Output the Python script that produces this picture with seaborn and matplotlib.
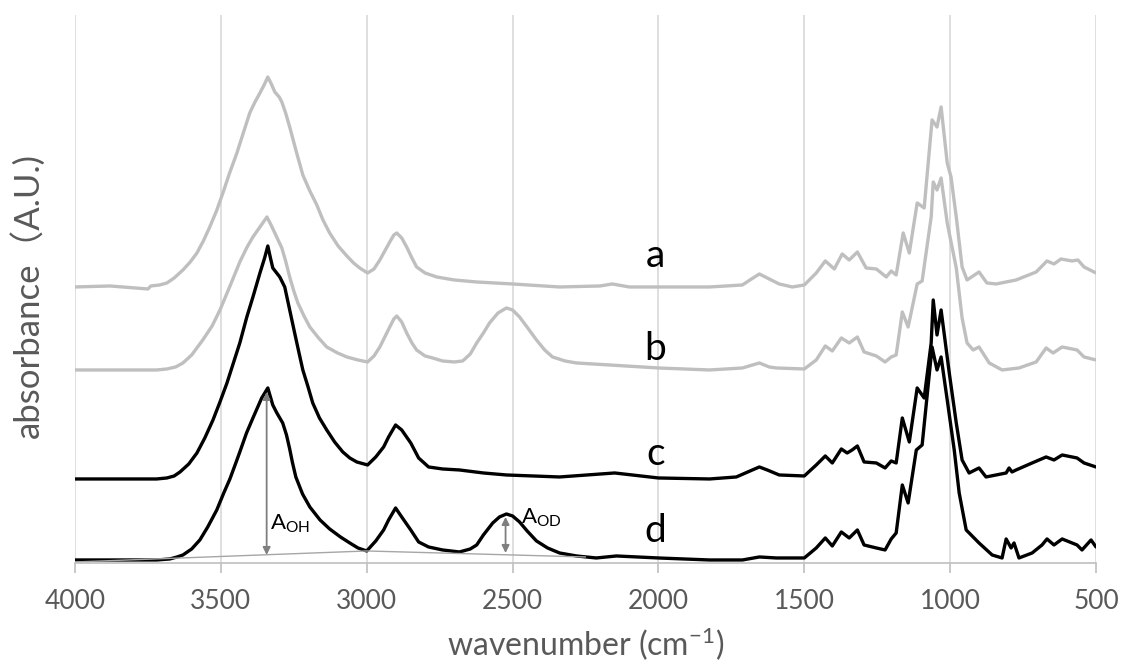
import numpy as np
import pandas as pd
import matplotlib
matplotlib.use('Agg')
import matplotlib.pyplot as plt
import seaborn as sns

# FTIR spectra, stacked: (wavenumber, absorbance incl. display offset)
spec_a = [(4000, 2.76), (3880, 2.77), (3750, 2.74), (3740, 2.77), (3710, 2.78), (3685, 2.80), (3660, 2.85),
          (3630, 2.93), (3605, 3.01), (3582, 3.10), (3560, 3.22), (3538, 3.36), (3515, 3.52), (3493, 3.70),
          (3470, 3.90), (3445, 4.10), (3422, 4.31), (3401, 4.50), (3383, 4.61), (3366, 4.70), (3350, 4.79),
          (3339, 4.86), (3327, 4.79), (3315, 4.71), (3300, 4.66), (3291, 4.61), (3278, 4.50), (3264, 4.36),
          (3242, 4.12), (3219, 3.88), (3195, 3.72), (3171, 3.58), (3150, 3.43), (3127, 3.30), (3098, 3.17),
          (3068, 3.07), (3045, 3.00), (3024, 2.95), (2997, 2.90), (2975, 2.94), (2955, 3.03), (2938, 3.12),
          (2921, 3.21), (2907, 3.28), (2897, 3.30), (2880, 3.25), (2863, 3.16), (2845, 3.05), (2829, 2.96),
          (2800, 2.90), (2760, 2.86), (2700, 2.83), (2623, 2.81), (2500, 2.79), (2339, 2.76), (2200, 2.77),
          (2158, 2.79), (2100, 2.76), (2000, 2.76), (1825, 2.76), (1712, 2.78), (1681, 2.84), (1654, 2.89),
          (1627, 2.85), (1586, 2.79), (1541, 2.76), (1500, 2.78), (1459, 2.90), (1428, 3.02), (1397, 2.94),
          (1370, 3.09), (1346, 3.03), (1318, 3.11), (1288, 2.95), (1253, 2.94), (1219, 2.86), (1202, 2.92),
          (1185, 2.88), (1161, 3.30), (1140, 3.10), (1113, 3.60), (1089, 3.55), (1062, 4.43), (1045, 4.36),
          (1031, 4.56), (1010, 4.00), (997, 3.86), (979, 3.46), (959, 2.96), (942, 2.83), (901, 2.91),
          (874, 2.80), (842, 2.79), (774, 2.83), (705, 2.91), (668, 3.02), (644, 2.99), (620, 3.04),
          (582, 3.02), (562, 3.03), (541, 2.96), (500, 2.90)]

spec_b = [(4000, 1.93), (3720, 1.93), (3685, 1.94), (3655, 1.96), (3630, 2.00), (3600, 2.08), (3562, 2.23),
          (3530, 2.37), (3503, 2.53), (3470, 2.76), (3435, 3.01), (3410, 3.16), (3390, 3.26), (3366, 3.36),
          (3342, 3.46), (3328, 3.38), (3315, 3.30), (3291, 3.15), (3278, 3.02), (3264, 2.86), (3250, 2.72),
          (3236, 2.60), (3215, 2.47), (3195, 2.36), (3165, 2.25), (3137, 2.16), (3100, 2.10), (3068, 2.06),
          (3030, 2.03), (2997, 2.01), (2975, 2.07), (2955, 2.16), (2938, 2.26), (2921, 2.36), (2907, 2.44),
          (2897, 2.47), (2880, 2.41), (2863, 2.30), (2845, 2.20), (2829, 2.13), (2800, 2.07), (2774, 2.05),
          (2740, 2.02), (2700, 2.01), (2671, 2.02), (2645, 2.09), (2623, 2.20), (2600, 2.30), (2579, 2.40),
          (2550, 2.50), (2521, 2.55), (2500, 2.53), (2476, 2.46), (2448, 2.35), (2418, 2.23), (2390, 2.13),
          (2363, 2.06), (2320, 2.02), (2281, 2.00), (2168, 1.98), (2000, 1.95), (1825, 1.93), (1712, 1.95),
          (1654, 2.00), (1620, 1.96), (1596, 1.95), (1500, 1.94), (1459, 2.03), (1428, 2.17), (1404, 2.12),
          (1373, 2.25), (1346, 2.20), (1318, 2.26), (1295, 2.11), (1253, 2.07), (1223, 2.01), (1202, 2.06),
          (1185, 2.08), (1164, 2.51), (1144, 2.36), (1113, 2.79), (1096, 2.82), (1065, 3.46), (1058, 3.81),
          (1045, 3.73), (1031, 3.85), (1010, 3.40), (979, 2.95), (959, 2.45), (942, 2.20), (921, 2.13),
          (901, 2.16), (866, 2.00), (822, 1.93), (764, 1.95), (705, 2.01), (671, 2.15), (647, 2.10),
          (616, 2.16), (565, 2.13), (541, 2.06), (500, 2.03)]

spec_c = [(4000, 0.84), (3720, 0.84), (3685, 0.85), (3660, 0.87), (3640, 0.91), (3610, 0.99), (3582, 1.10),
          (3555, 1.25), (3527, 1.43), (3503, 1.61), (3479, 1.80), (3457, 2.00), (3435, 2.20), (3411, 2.46),
          (3390, 2.66), (3366, 2.90), (3350, 3.05), (3339, 3.17), (3330, 3.05), (3322, 2.95), (3298, 2.86),
          (3281, 2.76), (3264, 2.53), (3247, 2.30), (3232, 2.10), (3219, 1.93), (3201, 1.76), (3185, 1.60),
          (3162, 1.45), (3137, 1.33), (3110, 1.21), (3082, 1.11), (3058, 1.05), (3034, 1.01), (2997, 0.98),
          (2969, 1.06), (2942, 1.16), (2925, 1.26), (2901, 1.38), (2880, 1.33), (2849, 1.20), (2822, 1.05),
          (2788, 0.96), (2740, 0.94), (2682, 0.93), (2600, 0.90), (2521, 0.88), (2339, 0.86), (2150, 0.90),
          (2000, 0.85), (1825, 0.84), (1733, 0.86), (1678, 0.93), (1654, 0.96), (1627, 0.93), (1586, 0.88),
          (1500, 0.87), (1459, 0.98), (1428, 1.07), (1404, 1.00), (1373, 1.14), (1353, 1.10), (1336, 1.13),
          (1318, 1.17), (1295, 1.01), (1253, 1.00), (1223, 0.95), (1202, 1.02), (1185, 1.00), (1164, 1.45),
          (1140, 1.21), (1113, 1.75), (1089, 1.65), (1065, 2.20), (1058, 2.63), (1045, 2.28), (1031, 2.53),
          (1003, 1.90), (979, 1.40), (959, 1.03), (935, 0.90), (901, 0.95), (877, 0.86), (808, 0.90),
          (798, 0.95), (788, 0.91), (774, 0.93), (719, 1.00), (671, 1.06), (644, 1.03), (616, 1.08),
          (565, 1.05), (541, 1.00), (500, 0.96)]

spec_d = [(4000, 0.03), (3720, 0.03), (3675, 0.04), (3650, 0.06), (3630, 0.08), (3600, 0.14), (3572, 0.23),
          (3545, 0.36), (3514, 0.53), (3490, 0.70), (3469, 0.84), (3450, 0.99), (3435, 1.11), (3412, 1.30),
          (3390, 1.45), (3375, 1.55), (3360, 1.65), (3339, 1.75), (3322, 1.58), (3308, 1.50), (3288, 1.40),
          (3275, 1.28), (3264, 1.14), (3255, 1.01), (3243, 0.86), (3220, 0.69), (3195, 0.56), (3160, 0.43),
          (3127, 0.34), (3090, 0.26), (3058, 0.20), (3030, 0.15), (3000, 0.12), (2969, 0.22), (2942, 0.33),
          (2925, 0.43), (2901, 0.55), (2880, 0.46), (2849, 0.33), (2822, 0.21), (2788, 0.16), (2740, 0.13),
          (2682, 0.11), (2645, 0.14), (2623, 0.18), (2600, 0.28), (2568, 0.40), (2545, 0.46), (2521, 0.49),
          (2500, 0.47), (2476, 0.41), (2450, 0.32), (2418, 0.22), (2380, 0.15), (2339, 0.10), (2281, 0.07),
          (2213, 0.05), (2144, 0.07), (2000, 0.05), (1825, 0.03), (1712, 0.03), (1654, 0.06), (1596, 0.05),
          (1500, 0.05), (1459, 0.15), (1428, 0.25), (1404, 0.17), (1373, 0.31), (1346, 0.25), (1318, 0.33),
          (1295, 0.18), (1253, 0.15), (1223, 0.13), (1202, 0.24), (1185, 0.30), (1164, 0.78), (1144, 0.60),
          (1116, 1.13), (1096, 1.18), (1062, 2.16), (1045, 1.93), (1031, 2.06), (1010, 1.63), (986, 1.13),
          (969, 0.70), (945, 0.33), (901, 0.20), (856, 0.08), (822, 0.05), (808, 0.24), (791, 0.15),
          (781, 0.20), (764, 0.05), (719, 0.10), (685, 0.18), (668, 0.24), (644, 0.18), (616, 0.24),
          (565, 0.18), (548, 0.13), (517, 0.23), (500, 0.16)]

# baseline used for the band heights under spectrum d
wn_base = [4000, 3000, 2250]
abs_base = [0.01, 0.12, 0.06]

labels = ['a', 'b', 'c', 'd']
label_y = [2.96, 2.03, 0.98, 0.21]
colors = ['#bfbfbf', '#bfbfbf', 'black', 'black']

# band heights marked on spectrum d: (position, bottom, top)
a_oh = (3343, 0.08, 1.71)
a_od = (2524, 0.10, 0.46)

sns.set_theme(style="whitegrid")
plt.rcParams['font.family'] = ['Lato', 'Noto Sans CJK SC', 'DejaVu Sans']
plt.rcParams['mathtext.fontset'] = 'custom'
plt.rcParams['mathtext.rm'] = 'Lato'
plt.rcParams['mathtext.default'] = 'regular'
text_col = '#595959'

fig, ax = plt.subplots(figsize=(11.21, 6.66), dpi=100)
fig.subplots_adjust(left=0.0669, right=0.9777, top=0.9775, bottom=0.1547)

for spec, col in zip([spec_a, spec_b, spec_c, spec_d], colors):
    df = pd.DataFrame(spec, columns=['wn', 'absorb'])
    sns.lineplot(data=df, x='wn', y='absorb', color=col, lw=2.4, sort=False,
                 estimator=None, ax=ax)

ax.plot(wn_base, abs_base, color='#a6a6a6', lw=1.0)

for pos, lo, hi in [a_oh, a_od]:
    ax.annotate('', xy=(pos, hi), xytext=(pos, lo),
                arrowprops=dict(arrowstyle='<|-|>', color='#7f7f7f', lw=1.3,
                                mutation_scale=11, shrinkA=0, shrinkB=0))
ax.text(3332, 0.39, 'A$_{OH}$', fontsize=16, color='black', va='center', ha='left')
ax.text(2470, 0.45, 'A$_{OD}$', fontsize=16, color='black', va='center', ha='left')

for lab, yy in zip(labels, label_y):
    ax.text(2010, yy, lab, fontsize=28, color='black', ha='center', va='baseline')

ax.set_xlim(4000, 500)
ax.set_ylim(0, 5.48)
ax.set_xticks(range(4000, 499, -500))
ax.set_yticks([])
ax.grid(axis='x', color='#d9d9d9', lw=1.2)
ax.grid(axis='y', visible=False)
for side in ['left', 'right', 'top']:
    ax.spines[side].set_visible(False)
ax.spines['bottom'].set_color('#bfbfbf')
ax.spines['bottom'].set_linewidth(1.2)
ax.tick_params(axis='x', bottom=True, length=7, width=1.2, color='#bfbfbf',
               labelsize=19, labelcolor=text_col, pad=12)

ax.set_xlabel('wavenumber (cm$^{-1}$)', fontsize=23, color=text_col)
ax.set_ylabel('absorbance（A.U.)', fontsize=25, color=text_col)
ax.xaxis.set_label_coords(0.5, -0.148)
ax.xaxis.label.set_va('center')
ax.yaxis.set_label_coords(-0.03, 0.489)

plt.savefig('out.png', dpi=100)
